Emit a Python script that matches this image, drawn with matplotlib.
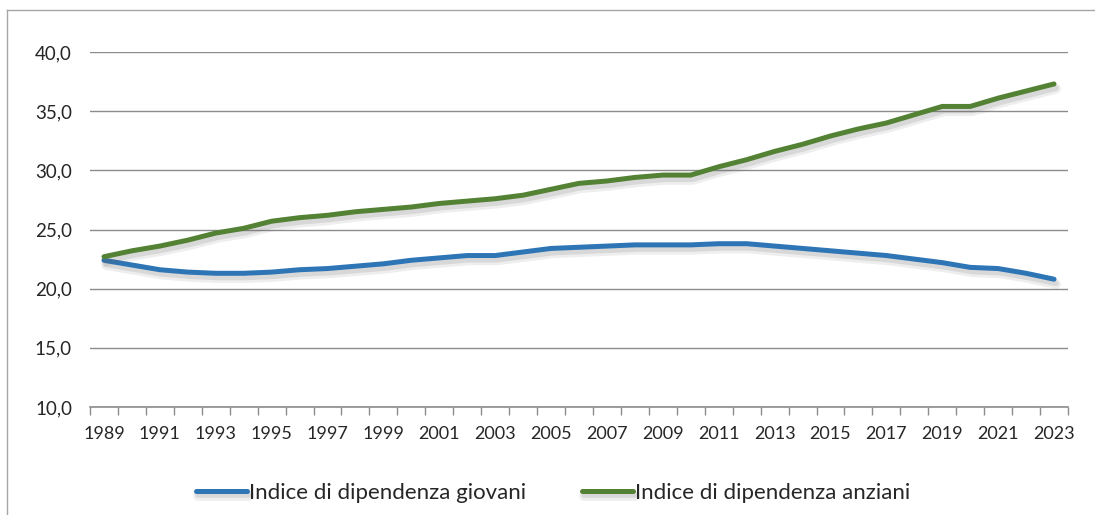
import matplotlib
matplotlib.use('Agg')
import matplotlib.pyplot as plt
import matplotlib.patheffects as pe
from matplotlib.lines import Line2D
import numpy as np

plt.rcParams['font.family'] = ['Lato', 'DejaVu Sans']

anni = list(range(1989, 2024))
giovani = [22.4, 22.0, 21.6, 21.4, 21.3, 21.3, 21.4, 21.6, 21.7, 21.9,
           22.1, 22.4, 22.6, 22.8, 22.8, 23.1, 23.4, 23.5, 23.6, 23.7,
           23.7, 23.7, 23.8, 23.8, 23.6, 23.4, 23.2, 23.0, 22.8, 22.5,
           22.2, 21.8, 21.7, 21.3, 20.8]
anziani = [22.7, 23.2, 23.6, 24.1, 24.7, 25.1, 25.7, 26.0, 26.2, 26.5,
           26.7, 26.9, 27.2, 27.4, 27.6, 27.9, 28.4, 28.9, 29.1, 29.4,
           29.6, 29.6, 30.3, 30.9, 31.6, 32.2, 32.9, 33.5, 34.0, 34.7,
           35.4, 35.4, 36.1, 36.7, 37.3]
etichette = ['Indice di dipendenza giovani', 'Indice di dipendenza anziani']
colori = ['#2E75B6', '#548235']

W, H = 1095, 515
fig = plt.figure(figsize=(W / 100, H / 100), dpi=100)
ax = fig.add_axes([90 / W, 1 - 407 / H, (1068 - 90) / W, (407 - 52) / H])

x = np.arange(len(anni))
# ombra sfumata sotto le linee (come in Excel)
ombra = [pe.SimpleLineShadow(offset=(1.5, -3.5), shadow_color='#606060', alpha=0.10, linewidth=7),
         pe.SimpleLineShadow(offset=(1.5, -3), shadow_color='#606060', alpha=0.15, linewidth=4),
         pe.Normal()]
for serie, lab, col in zip([giovani, anziani], etichette, colori):
    ax.plot(x, serie, color=col, lw=3.6, label=lab, solid_capstyle='round',
            path_effects=ombra)

ax.set_xlim(-0.5, len(anni) - 0.5)
ax.set_ylim(10, 40)
yt = np.arange(10, 41, 5)
ax.set_yticks(yt)
ax.set_yticklabels([('%.1f' % v).replace('.', ',') for v in yt])
ax.yaxis.grid(True, color='#8c8c8c', lw=1)
ax.set_axisbelow(True)
ax.tick_params(axis='y', length=0, pad=13, labelsize=13.5, colors='#262626')

# tick ai confini delle categorie, etichette ogni due anni
ax.set_xticks(np.arange(-0.5, len(anni), 1.0))
ax.set_xticklabels([])
ax.set_xticks(x[::2], minor=True)
ax.set_xticklabels([str(a) for a in anni[::2]], minor=True)
ax.tick_params(axis='x', which='major', length=6, width=1, color='#8c8c8c', direction='out')
ax.tick_params(axis='x', which='minor', length=0, pad=14, labelsize=13, labelcolor='#262626')

for s in ['left', 'right', 'top']:
    ax.spines[s].set_visible(False)
ax.spines['bottom'].set_color('#8c8c8c')
ax.spines['bottom'].set_linewidth(1.2)

fig.legend(loc='center', bbox_to_anchor=(553 / W, 1 - 493 / H), ncol=2, frameon=False,
           fontsize=16, handlelength=2.3, handletextpad=0.1, columnspacing=2.5,
           labelcolor='#262626')

# cornice esterna (solo lato alto e sinistro visibili)
fig.add_artist(Line2D([7 / W, 1.0], [1 - 10 / H, 1 - 10 / H], color='#a6a6a6', lw=1,
                      transform=fig.transFigure))
fig.add_artist(Line2D([7 / W, 7 / W], [0.0, 1 - 10 / H], color='#a6a6a6', lw=1,
                      transform=fig.transFigure))

fig.savefig('out.png', dpi=100)
